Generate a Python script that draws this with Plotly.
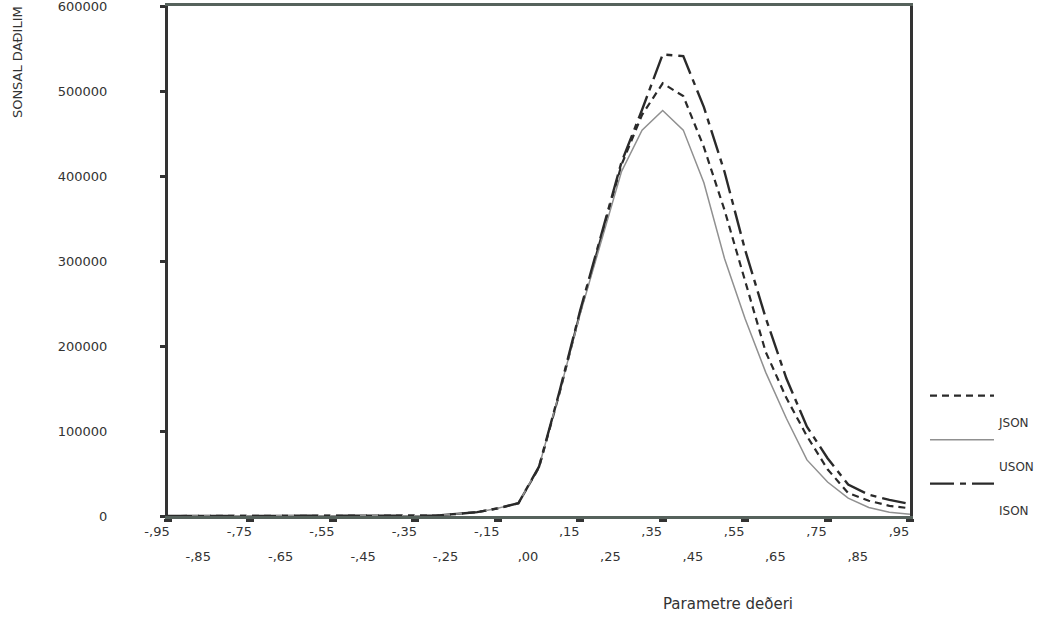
import plotly.graph_objects as go

# x positions in tick-index units (0 = "-,95" ... 18 = ",95")
param_index = [0, 0.5, 1, 1.5, 2, 2.5, 3, 3.5, 4, 4.5, 5, 5.5, 6, 6.5, 7, 7.5, 8, 8.5,
               9, 9.5, 10, 10.5, 11, 11.5, 12, 12.5, 13, 13.5, 14, 14.5, 15, 15.5,
               16, 16.5, 17, 17.5, 18]

json_vals = [0, 0, 0, 0, 0, 0, 0, 0, 0, 0, 0, 0, 0, 500, 2500, 4500, 9000, 15000,
             57000, 145000, 240000, 327000, 413000, 472000, 509000, 494000, 434000,
             360000, 275000, 193000, 139000, 94000, 55000, 27000, 18000, 12000, 9000]
uson_vals = [0, 0, 0, 0, 0, 0, 0, 0, 0, 0, 0, 0, 0, 500, 2500, 4500, 9000, 15000,
             58000, 146000, 238000, 322000, 405000, 454000, 477000, 454000, 392000,
             303000, 232000, 169000, 115000, 66000, 40000, 21000, 10000, 4500, 2000]
ison_vals = [0, 0, 0, 0, 0, 0, 0, 0, 0, 0, 0, 0, 0, 500, 2500, 4500, 9000, 15000,
             58000, 147000, 242000, 330000, 416000, 478000, 543000, 541000, 481000,
             405000, 313000, 233000, 162000, 105000, 68000, 37000, 25000, 19000, 14000]

tick_labels = ["-,95", "-,85", "-,75", "-,65", "-,55", "-,45", "-,35", "-,25", "-,15",
               ",00", ",15", ",25", ",35", ",45", ",55", ",65", ",75", ",85", ",95"]
y_ticks = [0, 100000, 200000, 300000, 400000, 500000, 600000]
series_names = ["JSON", "USON", "ISON"]

FONT = "DejaVu Sans"
TXT = "#333333"


def legend_name(s):
    return "<br><br><span style='font-size:12px'>" + s + "</span>"


fig = go.Figure()
fig.add_trace(go.Scatter(x=param_index, y=json_vals, mode="lines", name=legend_name(series_names[0]),
                         line=dict(color="#2a2a2a", width=2.2, dash="7px,5px")))
fig.add_trace(go.Scatter(x=param_index, y=uson_vals, mode="lines", name=legend_name(series_names[1]),
                         line=dict(color="#909090", width=1.5)))
fig.add_trace(go.Scatter(x=param_index, y=ison_vals, mode="lines", name=legend_name(series_names[2]),
                         line=dict(color="#2a2a2a", width=2.4, dash="24px,6px,6px,6px")))
# carrier for the second row of x tick labels
fig.add_trace(go.Scatter(x=[], y=[], xaxis="x2", showlegend=False, hoverinfo="skip"))

idx = list(range(len(tick_labels)))

fig.update_layout(
    width=1043, height=620,
    margin=dict(l=168, r=133, t=6, b=104, autoexpand=False),
    paper_bgcolor="white", plot_bgcolor="white",
    font=dict(family=FONT, size=13, color=TXT),
    xaxis=dict(
        range=[0, 18], showgrid=False, zeroline=False, automargin=False,
        showline=True, linecolor="#56625c", linewidth=3, mirror=True,
        ticks="outside", ticklen=3, tickwidth=8, tickcolor="#333",
        tickvals=idx[0::2], ticktext=tick_labels[0::2],
        ticklabelshift=-11, ticklabelstandoff=-2, ticklabeloverflow="allow",
        tickfont=dict(family=FONT, size=13, color=TXT),
    ),
    xaxis2=dict(
        overlaying="x", anchor="y", side="bottom", automargin=False,
        range=[0, 18], showgrid=False, zeroline=False, showline=False,
        ticks="", tickvals=idx[1::2], ticktext=tick_labels[1::2],
        ticklabelshift=-11, ticklabelstandoff=31, ticklabeloverflow="allow",
        tickfont=dict(family=FONT, size=13, color=TXT),
    ),
    yaxis=dict(
        range=[0, 600000], showgrid=False, zeroline=False, automargin=False,
        showline=True, linecolor="#333", linewidth=3, mirror=True,
        ticks="outside", ticklen=5, tickwidth=3, tickcolor="#333",
        tickvals=y_ticks, ticktext=[str(v) for v in y_ticks],
        ticklabelstandoff=50, ticklabeloverflow="allow",
        tickfont=dict(family=FONT, size=13, color=TXT),
    ),
    legend=dict(
        x=1.0202, y=0.262, xanchor="left", yanchor="top",
        bgcolor="rgba(0,0,0,0)", borderwidth=0,
        font=dict(family=FONT, size=10.5, color=TXT),
        valign="top", itemwidth=64, tracegroupgap=0,
    ),
    annotations=[
        dict(text="SONSAL DAÐILIM", xref="paper", yref="paper", x=-0.2035, y=0.89,
             textangle=-90, showarrow=False, font=dict(family=FONT, size=13, color=TXT),
             xanchor="center", yanchor="middle"),
        dict(text="Parametre deðeri", xref="paper", yref="paper", x=0.7547, y=-0.1725,
             showarrow=False, font=dict(family=FONT, size=15, color=TXT),
             xanchor="center", yanchor="middle"),
    ],
)

fig.write_html("out.html", config={"displayModeBar": False},
               post_script="document.body.style.margin='0px';")
